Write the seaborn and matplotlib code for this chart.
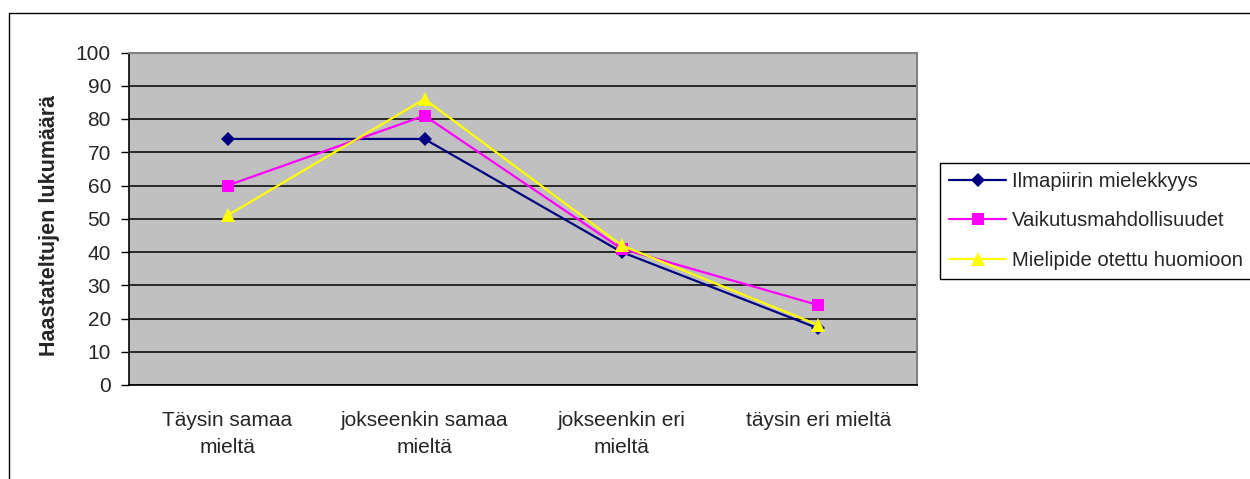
import numpy as np
import pandas as pd
import seaborn as sns
import matplotlib.pyplot as plt
from matplotlib.patches import Rectangle

# --- données ---
categories = ["Täysin samaa\nmieltä", "jokseenkin samaa\nmieltä",
              "jokseenkin eri\nmieltä", "täysin eri mieltä"]
ilmapiiri = [74, 74, 40, 17]
vaikutus = [60, 81, 41, 24]
mielipide = [51, 86, 42, 18]

series_names = ["Ilmapiirin mielekkyys", "Vaikutusmahdollisuudet",
                "Mielipide otettu huomioon"]
series_values = [ilmapiiri, vaikutus, mielipide]
colors = ["#000080", "#FF00FF", "#FFFF00"]
markers = ["D", "s", "^"]
marker_sizes = [7, 8.5, 10]

sns.set_theme(style="white")
plt.rcParams["font.family"] = ["Liberation Sans", "DejaVu Sans"]

fig = plt.figure(figsize=(12.5, 4.79), dpi=100)
ax = fig.add_axes([129 / 1250, 1 - 385 / 479, (917 - 129) / 1250, (385 - 52.5) / 479])
ax.set_facecolor("#C0C0C0")

for name, vals, col, mk, ms in zip(series_names, series_values, colors, markers, marker_sizes):
    sns.lineplot(x=categories, y=vals, ax=ax, sort=False, color=col, marker=mk,
                 markersize=ms, markeredgecolor=col, markeredgewidth=0,
                 linewidth=1.6, label=name)

ax.set_ylim(0, 100)
ax.set_xlim(-0.5, len(categories) - 0.5)
ax.set_yticks(np.arange(0, 101, 10))
ax.yaxis.grid(True, color="black", linewidth=1.1)
ax.set_axisbelow(True)

# ticks : marks between categories
ax.set_xticks(np.arange(len(categories)))
ax.set_xticklabels(categories, fontsize=15, linespacing=1.5)
ax.set_xticks(np.arange(0.5, len(categories) - 0.5, 1), minor=True)
ax.tick_params(axis="x", which="major", length=0, pad=19)
ax.tick_params(axis="x", which="minor", length=6, width=1, color="black", direction="out")
ax.tick_params(axis="y", length=6, width=1, color="black", direction="out", labelsize=15, pad=7,
               left=True)

for side in ["top", "right"]:
    ax.spines[side].set_color("#808080")
    ax.spines[side].set_linewidth(1.5)
for side in ["left", "bottom"]:
    ax.spines[side].set_color("black")
    ax.spines[side].set_linewidth(1.2)

ax.set_ylabel("Haastateltujen lukumäärä", fontsize=15.5, fontweight="bold")
ax.yaxis.set_label_coords(-0.087, 0.48)
ax.set_xlabel("")

leg = ax.legend(loc="upper left", bbox_to_anchor=(940 / 1250, 1 - 163 / 479),
                bbox_transform=fig.transFigure, fontsize=14.6, frameon=True,
                fancybox=False, edgecolor="black", framealpha=1, borderaxespad=0,
                handlelength=2.8, handletextpad=0.3, labelspacing=1.0, borderpad=0.45)
leg.get_frame().set_linewidth(1)

# cadre de la figure
fig.patches.append(Rectangle((9 / 1250, -0.1), 1.2, 1 - 13 / 479 + 0.1,
                             transform=fig.transFigure, fill=False,
                             edgecolor="black", linewidth=1))

fig.savefig("out.png", dpi=100)
